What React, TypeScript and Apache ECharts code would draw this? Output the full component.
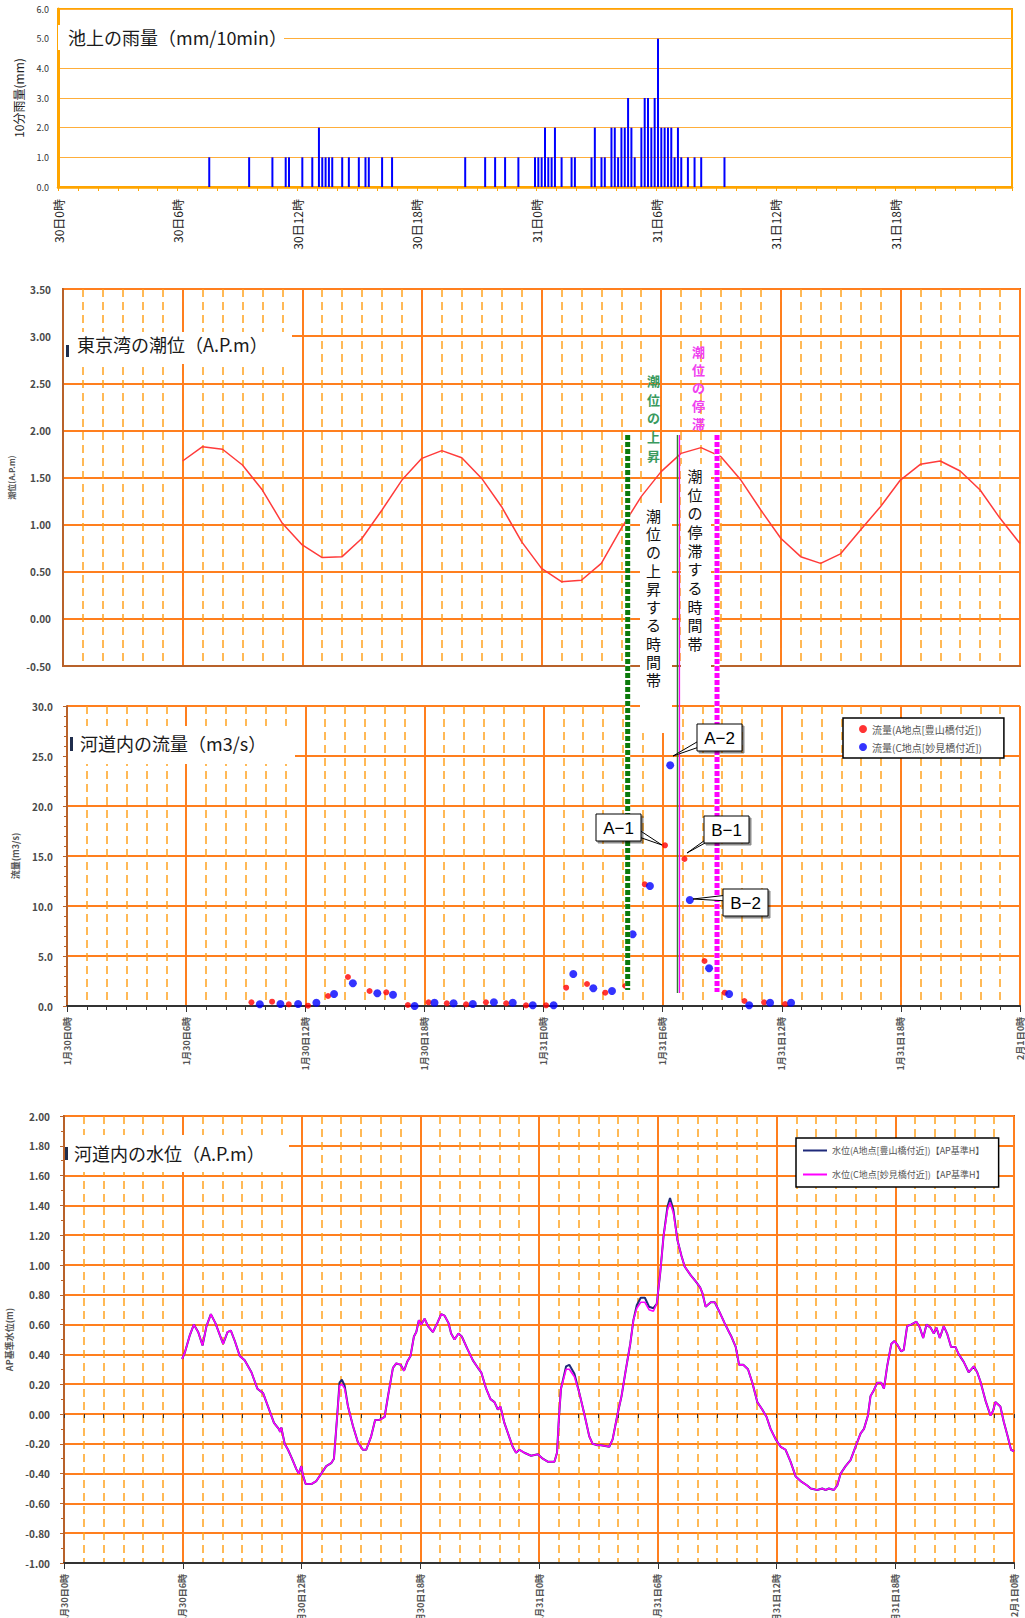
import React, { useEffect, useRef } from "react";
import * as echarts from "echarts";

const FONT = "'Noto Sans CJK JP', 'Noto Sans', sans-serif";

// ---- Rain (10-minute slots counted from 30日0時) ----
const rainSlot10min = [
  45, 57, 64, 68, 69, 73, 76, 78, 79, 80, 81, 82, 85, 87, 90, 92, 93, 97, 100, 122, 128, 131, 134, 138,
  143, 144, 145, 146, 147, 148, 149, 151, 154, 155,
  160, 161, 163, 164, 166, 167, 168, 169, 170, 171, 172, 173,
  175, 176, 177, 178, 179, 180, 181, 182, 183, 184, 185, 186, 187,
  189, 191, 193, 200,
];
const rainMm = [
  1, 1, 1, 1, 1, 1, 1, 2, 1, 1, 1, 1, 1, 1, 1, 1, 1, 1, 1, 1, 1, 1, 1, 1,
  1, 1, 1, 2, 1, 1, 2, 1, 1, 1,
  1, 2, 1, 1, 2, 2, 1, 2, 2, 3, 2, 1,
  2, 3, 3, 2, 3, 5, 2, 2, 2, 2, 1, 2, 1,
  1, 1, 1, 1,
];
const rainTickLabels = ["30日0時", "30日6時", "30日12時", "30日18時", "31日0時", "31日6時", "31日12時", "31日18時"];
const dateTickLabels = ["1月30日0時", "1月30日6時", "1月30日12時", "1月30日18時", "1月31日0時", "1月31日6時", "1月31日12時", "1月31日18時", "2月1日0時"];

// ---- Tide (hours from 30日0時) ----
const tideHours = [6, 7, 8, 9, 10, 11, 12, 13, 14, 15, 16, 17, 18, 19, 20, 21, 22, 23, 24, 25, 26, 27, 28, 29, 30, 31, 32, 33, 34, 35, 36, 37, 38, 39, 40, 41, 42, 43, 44, 45, 46, 47, 48];
const tideLevel = [1.675, 1.827, 1.8, 1.633, 1.367, 1.014, 0.784, 0.65, 0.66, 0.855, 1.155, 1.473, 1.703, 1.785, 1.71, 1.49, 1.19, 0.82, 0.536, 0.395, 0.41, 0.589, 0.96, 1.297, 1.562, 1.756, 1.817, 1.721, 1.473, 1.155, 0.855, 0.66, 0.589, 0.69, 0.943, 1.19, 1.473, 1.64, 1.675, 1.569, 1.367, 1.067, 0.8];

// ---- Flow ----
const flowAHours = [9.29, 10.33, 11.17, 12.14, 13.15, 14.15, 15.24, 16.08, 17.17, 18.21, 19.13, 20.1, 21.1, 22.12, 23.12, 24.13, 25.14, 26.19, 27.11, 28.12, 29.1, 30.12, 31.1, 32.11, 33.13, 34.12, 35.11, 36.17];
const flowA = [0.37, 0.43, 0.17, 0.03, 1.0, 2.9, 1.5, 1.37, 0.1, 0.37, 0.27, 0.17, 0.37, 0.27, 0.07, 0.07, 1.83, 2.2, 1.33, 2.0, 12.17, 16.07, 14.7, 4.5, 1.33, 0.5, 0.37, 0.2];
const flowCHours = [9.71, 10.75, 11.64, 12.56, 13.45, 14.4, 15.63, 16.42, 17.51, 18.51, 19.47, 20.44, 21.5, 22.45, 23.46, 24.51, 25.5, 26.51, 27.45, 28.49, 29.36, 30.38, 31.37, 32.34, 33.35, 34.36, 35.41, 36.47];
const flowC = [0.17, 0.2, 0.2, 0.33, 1.2, 2.27, 1.27, 1.13, 0.0, 0.33, 0.27, 0.2, 0.37, 0.33, 0.07, 0.07, 3.2, 1.77, 1.5, 7.17, 12.0, 24.07, 10.6, 3.77, 1.2, 0.07, 0.33, 0.33];

// ---- Water level ----
const waterHours = [
  5.97, 6.1, 6.36, 6.56, 6.78, 7.0, 7.2, 7.42, 7.65, 8.04,
  8.26, 8.43, 8.63, 8.88, 9.13, 9.47, 9.77, 10.06, 10.31, 10.61,
  10.85, 10.92, 10.98, 11.15, 11.32, 11.52, 11.74, 11.86, 11.99, 12.07,
  12.21, 12.5, 12.75, 13.0, 13.25, 13.5, 13.64, 13.81, 13.92, 14.04,
  14.18, 14.35, 14.6, 14.85, 15.1, 15.27, 15.52, 15.72, 15.94, 16.2,
  16.37, 16.62, 16.79, 17.01, 17.18, 17.34, 17.51, 17.68, 17.8, 17.93,
  18.05, 18.22, 18.39, 18.64, 18.86, 19.06, 19.23, 19.43, 19.56, 19.73,
  19.93, 20.1, 20.37, 20.66, 20.91, 21.08, 21.33, 21.55, 21.75, 21.92,
  22.05, 22.25, 22.46, 22.67, 22.84, 23.01, 23.26, 23.6, 23.94, 24.19,
  24.44, 24.78, 24.91, 25.0, 25.11, 25.37, 25.53, 25.79, 26.04, 26.29,
  26.54, 26.71, 26.96, 27.13, 27.55, 27.72, 27.97, 28.17, 28.39, 28.61,
  28.77, 28.94, 29.14, 29.35, 29.56, 29.78, 29.95, 30.12, 30.29, 30.49,
  30.62, 30.79, 30.99, 31.2, 31.36, 31.67, 31.92, 32.14, 32.26, 32.42,
  32.68, 32.88, 33.1, 33.38, 33.6, 33.72, 33.94, 34.11, 34.32, 34.56,
  34.78, 35.03, 35.28, 35.5, 35.7, 35.96, 36.21, 36.46, 36.71, 36.97,
  37.22, 37.55, 37.73, 38.06, 38.31, 38.48, 38.65, 38.9, 39.07, 39.24,
  39.49, 39.74, 39.99, 40.25, 40.42, 40.62, 40.75, 40.92, 41.09, 41.29,
  41.43, 41.59, 41.8, 41.96, 42.13, 42.3, 42.43, 42.6, 42.8, 43.07,
  43.24, 43.41, 43.58, 43.78, 43.95, 44.08, 44.25, 44.45, 44.62, 44.82,
  45.04, 45.21, 45.46, 45.71, 45.97, 46.14, 46.3, 46.56, 46.81, 46.94,
  47.06, 47.31, 47.48, 47.68, 47.85, 48.0,
];
const waterLevelC = [
  0.37, 0.41, 0.53, 0.6, 0.55, 0.46, 0.59, 0.67, 0.61, 0.47,
  0.55, 0.56, 0.49, 0.39, 0.36, 0.28, 0.17, 0.14, 0.05, -0.06,
  -0.1, -0.12, -0.09, -0.2, -0.24, -0.3, -0.37, -0.4, -0.35, -0.41,
  -0.47, -0.47, -0.45, -0.4, -0.35, -0.33, -0.3, 0.0, 0.19, 0.2,
  0.17, 0.05, -0.08, -0.19, -0.24, -0.24, -0.15, -0.04, -0.04, -0.02,
  0.12, 0.31, 0.34, 0.33, 0.29, 0.35, 0.39, 0.52, 0.55, 0.63,
  0.6, 0.64, 0.59, 0.55, 0.61, 0.67, 0.66, 0.61, 0.54, 0.5,
  0.54, 0.52, 0.44, 0.36, 0.31, 0.28, 0.17, 0.1, 0.08, 0.03,
  0.05, -0.06, -0.14, -0.22, -0.26, -0.24, -0.26, -0.28, -0.27, -0.3,
  -0.32, -0.32, -0.26, -0.04, 0.17, 0.3, 0.3, 0.25, 0.14, 0.0,
  -0.15, -0.2, -0.21, -0.21, -0.22, -0.17, 0.0, 0.12, 0.3, 0.47,
  0.63, 0.71, 0.75, 0.75, 0.7, 0.69, 0.74, 0.94, 1.19, 1.37,
  1.42, 1.35, 1.17, 1.06, 0.99, 0.93, 0.89, 0.85, 0.81, 0.72,
  0.75, 0.75, 0.69, 0.61, 0.55, 0.52, 0.45, 0.33, 0.33, 0.3,
  0.21, 0.08, 0.03, -0.02, -0.1, -0.17, -0.22, -0.24, -0.32, -0.42,
  -0.45, -0.48, -0.5, -0.51, -0.5, -0.51, -0.5, -0.51, -0.48, -0.4,
  -0.35, -0.31, -0.22, -0.13, -0.1, -0.01, 0.12, 0.16, 0.21, 0.21,
  0.17, 0.32, 0.47, 0.49, 0.46, 0.42, 0.43, 0.59, 0.6, 0.62,
  0.58, 0.51, 0.6, 0.58, 0.54, 0.58, 0.51, 0.59, 0.54, 0.45,
  0.45, 0.4, 0.35, 0.28, 0.32, 0.28, 0.22, 0.09, -0.01, 0.02,
  0.08, 0.05, -0.05, -0.15, -0.24, -0.25,
];
const waterLevelA = [
  0.37, 0.41, 0.53, 0.6, 0.55, 0.46, 0.59, 0.67, 0.61, 0.47,
  0.55, 0.56, 0.49, 0.39, 0.36, 0.28, 0.17, 0.14, 0.05, -0.06,
  -0.1, -0.12, -0.09, -0.2, -0.24, -0.3, -0.37, -0.4, -0.35, -0.41,
  -0.47, -0.47, -0.45, -0.4, -0.35, -0.33, -0.3, 0.0, 0.21, 0.23,
  0.19, 0.05, -0.08, -0.19, -0.24, -0.24, -0.15, -0.04, -0.04, -0.02,
  0.12, 0.31, 0.34, 0.33, 0.29, 0.35, 0.39, 0.52, 0.55, 0.63,
  0.6, 0.64, 0.59, 0.55, 0.61, 0.67, 0.66, 0.61, 0.54, 0.5,
  0.54, 0.52, 0.44, 0.36, 0.31, 0.28, 0.17, 0.1, 0.08, 0.03,
  0.05, -0.06, -0.14, -0.22, -0.26, -0.24, -0.26, -0.28, -0.27, -0.3,
  -0.32, -0.32, -0.26, -0.04, 0.17, 0.32, 0.33, 0.27, 0.14, 0.0,
  -0.15, -0.2, -0.21, -0.21, -0.22, -0.17, 0.0, 0.12, 0.3, 0.47,
  0.63, 0.73, 0.78, 0.78, 0.72, 0.71, 0.74, 0.94, 1.19, 1.39,
  1.45, 1.37, 1.17, 1.06, 0.99, 0.93, 0.89, 0.85, 0.81, 0.72,
  0.75, 0.75, 0.69, 0.61, 0.55, 0.52, 0.45, 0.33, 0.33, 0.3,
  0.21, 0.08, 0.03, -0.02, -0.1, -0.17, -0.22, -0.24, -0.32, -0.42,
  -0.45, -0.48, -0.5, -0.51, -0.5, -0.51, -0.5, -0.51, -0.48, -0.4,
  -0.35, -0.31, -0.22, -0.13, -0.1, -0.01, 0.12, 0.16, 0.21, 0.21,
  0.17, 0.32, 0.47, 0.49, 0.46, 0.42, 0.43, 0.59, 0.6, 0.62,
  0.58, 0.51, 0.6, 0.58, 0.54, 0.58, 0.51, 0.59, 0.54, 0.45,
  0.45, 0.4, 0.35, 0.28, 0.32, 0.28, 0.22, 0.09, -0.01, 0.02,
  0.08, 0.05, -0.05, -0.15, -0.24, -0.25,
];

// ---- Annotation times (hours) ----
const riseStartHour = 28.24;
const stagnateStartHour = 30.75;
const stagnateEndHour = 32.74;

const seriesNames = {
  flowA: "流量(A地点[豊山橋付近])",
  flowC: "流量(C地点[妙見橋付近])",
  waterA: "水位(A地点[豊山橋付近])【AP基準H】",
  waterC: "水位(C地点[妙見橋付近])【AP基準H】",
};

const MAJOR = "#FF7F1E";
const MINOR = "#FFA21F";
const BROWN = "#B8622A";

function minorX(gridIndex: number, ticks: boolean) {
  return {
    type: "value", gridIndex, position: "bottom", min: 0, max: 48, interval: 1,
    axisLine: { show: false },
    axisTick: { show: ticks, length: 4, lineStyle: { color: "#333" } },
    axisLabel: { show: false },
    splitLine: { show: true, lineStyle: { color: MINOR, width: 1.5, type: [8, 5] } },
  };
}
function majorX(gridIndex: number, labels: boolean, axisColor: string) {
  return {
    type: "value", gridIndex, position: "bottom", min: 0, max: 48, interval: 6,
    axisLine: { show: true, lineStyle: { color: axisColor, width: 2 } },
    axisTick: { show: labels, length: 6, lineStyle: { color: "#333" } },
    axisLabel: labels
      ? {
          show: true, rotate: 90, margin: 11, fontSize: 9, fontWeight: "bold", color: "#555", fontFamily: FONT,
          formatter: (v: number) => dateTickLabels[Math.round(v / 6)] ?? "",
        }
      : { show: false },
    splitLine: { show: true, lineStyle: { color: MAJOR, width: 2 } },
  };
}
const yLabel = (digits: number) => ({
  fontSize: 10, fontWeight: "bold", color: "#4a4a4a", fontFamily: FONT,
  formatter: (v: number) => v.toFixed(digits),
});

function buildOption() {
  const common = { outerBoundsMode: "none", containLabel: false };
  return {
    animation: false,
    backgroundColor: "#fff",
    textStyle: { fontFamily: FONT },
    grid: [
      { ...common, left: 58, top: 9, width: 954, height: 178, show: true, borderColor: "#FFA500", borderWidth: 2, backgroundColor: "transparent" },
      { ...common, left: 63, top: 289, width: 957, height: 377, show: true, borderColor: BROWN, borderWidth: 2, backgroundColor: "transparent" },
      { ...common, left: 67, top: 706, width: 953, height: 300 },
      { ...common, left: 64, top: 1116, width: 950, height: 447, show: true, borderColor: BROWN, borderWidth: 2, backgroundColor: "transparent" },
    ],
    xAxis: [
      {
        type: "value", gridIndex: 0, position: "bottom", min: 0, max: 47.833, interval: 1,
        axisLine: { show: true, lineStyle: { color: "#FFA500", width: 2.5 } },
        axisTick: { show: true, length: 4, lineStyle: { color: "#FFA500" } },
        axisLabel: {
          show: true, rotate: 90, margin: 12, fontSize: 12, color: "#222", fontFamily: FONT,
          formatter: (v: number) => (Math.abs(v - Math.round(v)) < 1e-6 && Math.round(v) % 6 === 0 ? rainTickLabels[Math.round(v) / 6] ?? "" : ""),
        },
        splitLine: { show: false },
      },
      minorX(1, false),
      majorX(1, false, BROWN),
      minorX(2, true),
      majorX(2, true, "#333"),
      minorX(3, true),
      majorX(3, true, "#333"),
    ],
    yAxis: [
      {
        type: "value", gridIndex: 0, min: 0, max: 6, interval: 1,
        name: "10分雨量(mm)", nameLocation: "middle", nameGap: 34,
        nameTextStyle: { fontSize: 12, color: "#222", fontFamily: FONT },
        axisLine: { show: true, lineStyle: { color: "#FFA500", width: 3 } },
        axisTick: { show: false },
        axisLabel: { fontSize: 9, color: "#333", margin: 9, formatter: (v: number) => v.toFixed(1) },
        splitLine: { show: true, lineStyle: { color: "#FFAE3A", width: 1 } },
      },
      {
        type: "value", gridIndex: 1, min: -0.5, max: 3.5, interval: 0.5,
        name: "潮位(A.P.m)", nameLocation: "middle", nameGap: 47,
        nameTextStyle: { fontSize: 8, fontWeight: "bold", color: "#555", fontFamily: FONT },
        axisLine: { show: true, lineStyle: { color: BROWN, width: 2 } },
        axisTick: { show: false },
        axisLabel: { ...yLabel(2), margin: 12 },
        splitLine: { show: true, lineStyle: { color: MAJOR, width: 2 } },
      },
      {
        type: "value", gridIndex: 2, min: 0, max: 30, interval: 5,
        name: "流量(m3/s)", nameLocation: "middle", nameGap: 47,
        nameTextStyle: { fontSize: 9, fontWeight: "bold", color: "#555", fontFamily: FONT },
        axisLine: { show: true, lineStyle: { color: BROWN, width: 2 } },
        axisTick: { show: true, length: 4, lineStyle: { color: BROWN } },
        minorTick: { show: true, splitNumber: 5, length: 3, lineStyle: { color: BROWN } },
        axisLabel: { ...yLabel(1), margin: 14 },
        splitLine: { show: true, lineStyle: { color: MAJOR, width: 2 } },
      },
      {
        type: "value", gridIndex: 3, min: -1, max: 2, interval: 0.2,
        name: "AP基準水位(m)", nameLocation: "middle", nameGap: 50,
        nameTextStyle: { fontSize: 9, fontWeight: "bold", color: "#555", fontFamily: FONT },
        axisLine: { show: true, lineStyle: { color: BROWN, width: 2 } },
        axisTick: { show: true, length: 4, lineStyle: { color: BROWN } },
        minorTick: { show: true, splitNumber: 2, length: 3, lineStyle: { color: BROWN } },
        axisLabel: { ...yLabel(2), margin: 14 },
        splitLine: { show: true, lineStyle: { color: MAJOR, width: 2 } },
      },
    ],
    legend: [
      {
        data: [seriesNames.flowA, seriesNames.flowC], orient: "vertical", left: 843, top: 718,
        backgroundColor: "#fff", borderColor: "#000", borderWidth: 1.5, padding: [6, 22, 6, 16], itemGap: 8,
        itemWidth: 8, itemHeight: 8, icon: "circle", selectedMode: false,
        textStyle: { fontSize: 10, color: "#555", fontFamily: FONT },
      },
      {
        data: [seriesNames.waterA, seriesNames.waterC], orient: "vertical", left: 796, top: 1138,
        backgroundColor: "#fff", borderColor: "#000", borderWidth: 1.5, padding: [8, 14, 8, 7], itemGap: 15,
        itemWidth: 24, itemHeight: 2, icon: "rect", selectedMode: false,
        textStyle: { fontSize: 9, color: "#555", fontFamily: FONT },
      },
    ],
    series: [
      {
        type: "bar", name: "rain", xAxisIndex: 0, yAxisIndex: 0, barWidth: 2,
        itemStyle: { color: "#0000FF" },
        data: rainSlot10min.map((s, i) => [(s + 0.5) / 6, rainMm[i]]),
      },
      {
        type: "line", name: "tide", xAxisIndex: 2, yAxisIndex: 1, symbol: "none",
        lineStyle: { color: "#FF3B3B", width: 1.5 },
        data: tideHours.map((h, i) => [h, tideLevel[i]]),
      },
      {
        type: "scatter", name: seriesNames.flowA, xAxisIndex: 4, yAxisIndex: 2, symbolSize: 6,
        itemStyle: { color: "#FF0000" },
        data: flowAHours.map((h, i) => [h, flowA[i]]),
      },
      {
        type: "scatter", name: seriesNames.flowC, xAxisIndex: 4, yAxisIndex: 2, symbolSize: 8,
        itemStyle: { color: "#0000FF" },
        data: flowCHours.map((h, i) => [h, flowC[i]]),
      },
      {
        type: "line", name: seriesNames.waterA, xAxisIndex: 6, yAxisIndex: 3, symbol: "none",
        lineStyle: { color: "#1F2A7A", width: 2 }, itemStyle: { color: "#1F2A7A" },
        data: waterHours.map((h, i) => [h, waterLevelA[i]]),
      },
      {
        type: "line", name: seriesNames.waterC, xAxisIndex: 6, yAxisIndex: 3, symbol: "none",
        lineStyle: { color: "#FF00FF", width: 1.6 }, itemStyle: { color: "#FF00FF" },
        data: waterHours.map((h, i) => [h, waterLevelC[i]]),
      },
    ],
  };
}

function buildGraphic(chart: any) {
  const P = (xi: number, yi: number, x: number, y: number) =>
    chart.convertToPixel({ xAxisIndex: xi, yAxisIndex: yi }, [x, y]) as number[];
  const els: any[] = [];
  const white = (x: number, y: number, w: number, h: number) =>
    els.push({ type: "rect", silent: true, z: 100, shape: { x, y, width: w, height: h }, style: { fill: "#fff" } });
  const text = (x: number, y: number, t: string, font: string, fill: string, align = "left", va = "middle", lineHeight?: number) =>
    els.push({
      type: "text", silent: true, z: 120, x, y,
      style: { text: t, font, fill, align, verticalAlign: va, textAlign: align, textVerticalAlign: va, lineHeight },
    });
  const bracket = (x: number, y: number, h: number) =>
    els.push({ type: "rect", silent: true, z: 110, shape: { x, y, width: 3, height: h }, style: { fill: "#1f2d4d" } });

  // titles
  white(58, 25, 226, 25);
  text(68, 37, "池上の雨量（mm/10min）", `18px ${FONT}`, "#1a1a1a");
  white(64, 332, 228, 32);
  bracket(66, 345, 12);
  text(77, 344, "東京湾の潮位（A.P.m）", `18px ${FONT}`, "#1a1a1a");
  white(68, 726, 227, 38);
  bracket(70, 737, 14);
  text(80, 743, "河道内の流量（m3/s）", `18px ${FONT}`, "#1a1a1a");
  white(65, 1135, 224, 37);
  bracket(65, 1147, 13);
  text(74, 1153, "河道内の水位（A.P.m）", `18px ${FONT}`, "#1a1a1a");

  // vertical marker lines spanning tide and flow charts
  const vline = (h: number, bottomVal: number, color: string, width: number, dash?: number[], dx = 0) => {
    const x = P(4, 2, h, 0)[0] + dx;
    const yTop = P(2, 1, h, 1.95)[1];
    const yBot = P(4, 2, h, bottomVal)[1];
    if (dash) {
      els.push({ type: "line", silent: true, z: 105, shape: { x1: x, y1: yTop, x2: x, y2: yBot }, style: { stroke: "#fff", lineWidth: width } });
    }
    els.push({
      type: "line", silent: true, z: 106, shape: { x1: x, y1: yTop, x2: x, y2: yBot },
      style: { stroke: color, lineWidth: width, lineDash: dash || null },
    });
  };
  vline(riseStartHour, 1.6, "#0B7A0B", 5, [5, 2]);
  vline(stagnateStartHour, 1.3, "#2E7D32", 1.5);
  vline(stagnateStartHour, 1.3, "#FF00FF", 1.2, undefined, 2);
  vline(stagnateEndHour, 1.4, "#FF00FF", 5, [5, 2]);

  // white boxes for vertical texts
  white(640, 503, 32, 230);
  white(681, 464, 30, 218);
  const vert = (s: string) => s.split("").join("\n");
  text(653.5, 506, vert("潮位の上昇する時間帯"), `15px ${FONT}`, "#111", "center", "top", 18.3);
  text(695, 466, vert("潮位の停滞する時間帯"), `15px ${FONT}`, "#111", "center", "top", 18.7);
  text(653.5, 371, vert("潮位の上昇"), `bold 13px ${FONT}`, "#3A9A5E", "center", "top", 18.75);
  text(698.5, 343, vert("潮位の停滞"), `bold 13px ${FONT}`, "#F040F0", "center", "top", 17.9);

  // callouts
  const callout = (bx: number, by: number, label: string, wedge: number[][]) => {
    els.push({ type: "polygon", silent: true, z: 130, shape: { points: wedge }, style: { fill: "#fff", stroke: "#000", lineWidth: 1 } });
    els.push({
      type: "rect", silent: true, z: 131, shape: { x: bx, y: by, width: 45, height: 27 },
      style: { fill: "#fff", stroke: "#000", lineWidth: 1, shadowColor: "rgba(0,0,0,0.45)", shadowOffsetX: 2, shadowOffsetY: 2, shadowBlur: 0 },
    });
    els.push({
      type: "text", silent: true, z: 132, x: bx + 22.5, y: by + 14,
      style: { text: label, font: `17px 'Liberation Sans', Arial, sans-serif`, fill: "#000", align: "center", verticalAlign: "middle", textAlign: "center", textVerticalAlign: "middle" },
    });
  };
  callout(596, 814, "A−1", [[636, 828], [662, 845], [636, 836]]);
  callout(697, 724, "A−2", [[702, 739], [673, 756], [702, 746]]);
  callout(704, 816, "B−1", [[708, 838], [687, 853], [714, 838]]);
  callout(723, 889, "B−2", [[728, 895], [693, 899], [728, 901]]);

  return { elements: els };
}

export default function App() {
  const ref = useRef<HTMLDivElement>(null);
  useEffect(() => {
    const el = ref.current!;
    const chart = echarts.init(el, null, { renderer: "svg" });
    chart.setOption(buildOption() as any);
    chart.setOption({ graphic: buildGraphic(chart) } as any);
    return () => chart.dispose();
  }, []);
  return (
    <div
      ref={ref}
      style={{ position: "absolute", left: 0, top: 0, width: 1025, height: 1618, background: "#fff" }}
    />
  );
}
